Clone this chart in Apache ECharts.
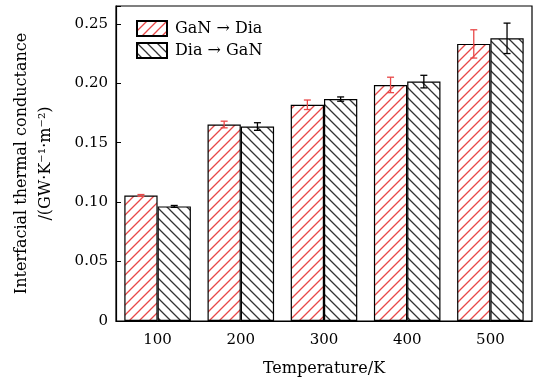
<!DOCTYPE html>
<html>
<head>
<meta charset="utf-8">
<script src="https://cdn.jsdelivr.net/npm/echarts@6/dist/echarts.min.js"></script>
<style>
  html, body { margin: 0; padding: 0; background: #fff; }
  #chart { width: 534px; height: 382px; }
</style>
</head>
<body>
<div id="chart"></div>
<script>
// temperatures and measured conductance (GW/(K*m^2))
const temps = ['100', '200', '300', '400', '500'];
const ganToDia = [0.1056, 0.1653, 0.1819, 0.1986, 0.2331];
const diaToGan = [0.0964, 0.1636, 0.1867, 0.2014, 0.2378];
const errGanToDia = [0.0008, 0.0028, 0.0040, 0.0065, 0.0119];
const errDiaToGan = [0.0008, 0.0032, 0.0018, 0.0053, 0.0128];

const FONT = 'DejaVu Serif';
const RED = '#e84848';

// diagonal hatch fill, dir 1 = '/', -1 = '\'
function hatch(color, dir) {
    const s = 10;
    const c = document.createElement('canvas');
    c.width = s; c.height = s;
    const ctx = c.getContext('2d');
    ctx.fillStyle = '#fff';
    ctx.fillRect(0, 0, s, s);
    ctx.strokeStyle = color;
    ctx.lineWidth = 1.3;
    ctx.beginPath();
    if (dir > 0) {
        ctx.moveTo(-1, s + 1); ctx.lineTo(s + 1, -1);
        ctx.moveTo(-1, 1); ctx.lineTo(1, -1);
        ctx.moveTo(s - 1, s + 1); ctx.lineTo(s + 1, s - 1);
    } else {
        ctx.moveTo(-1, -1); ctx.lineTo(s + 1, s + 1);
        ctx.moveTo(-1, s - 1); ctx.lineTo(1, s + 1);
        ctx.moveTo(s - 1, -1); ctx.lineTo(s + 1, 1);
    }
    ctx.stroke();
    return { image: c, repeat: 'repeat' };
}

function errData(vals, errs) {
    return vals.map((v, i) => [i, v - errs[i], v + errs[i]]);
}

// draws one error bar, shifted onto its bar of the pair
function errRenderer(side, color) {
    return function (params, api) {
        const band = api.size([1, 0])[0];
        const dx = side * band * 0.2;
        const lo = api.coord([api.value(0), api.value(1)]);
        const hi = api.coord([api.value(0), api.value(2)]);
        const x = lo[0] + dx;
        const cap = 3.5;
        const style = { stroke: color, lineWidth: 1.3 };
        return {
            type: 'group',
            children: [
                { type: 'line', shape: { x1: x, y1: lo[1], x2: x, y2: hi[1] }, style },
                { type: 'line', shape: { x1: x - cap, y1: lo[1], x2: x + cap, y2: lo[1] }, style },
                { type: 'line', shape: { x1: x - cap, y1: hi[1], x2: x + cap, y2: hi[1] }, style }
            ]
        };
    };
}

const chart = echarts.init(document.getElementById('chart'));

chart.setOption({
    backgroundColor: '#fff',
    animation: false,
    grid: {
        left: 116, right: 2, top: 6, bottom: 58,
        show: true, borderColor: '#000', borderWidth: 1.2
    },
    legend: {
        data: ['GaN → Dia', 'Dia → GaN'],
        orient: 'vertical',
        left: 131, top: 15,
        icon: 'rect',
        itemWidth: 30, itemHeight: 15, itemGap: 5,
        textStyle: { fontFamily: FONT, fontSize: 16, color: '#000', padding: [0, 0, 0, 3] }
    },
    xAxis: {
        type: 'category',
        data: temps,
        name: 'Temperature/K',
        nameLocation: 'middle',
        nameGap: 40,
        nameTextStyle: { fontFamily: FONT, fontSize: 16, color: '#000' },
        axisLine: { lineStyle: { color: '#000', width: 1.2 } },
        axisTick: { show: false },
        axisLabel: { fontFamily: FONT, fontSize: 15, color: '#000', margin: 12 }
    },
    yAxis: {
        type: 'value',
        min: 0, max: 0.265, interval: 0.05,
        name: 'Interfacial thermal conductance\n/(GW·K⁻¹·m⁻²)',
        nameLocation: 'middle',
        nameGap: 58,
        nameTextStyle: { fontFamily: FONT, fontSize: 16, color: '#000', lineHeight: 24 },
        splitLine: { show: false },
        axisLine: { show: true, lineStyle: { color: '#000', width: 1.2 } },
        axisTick: { show: true, inside: true, length: 5, lineStyle: { color: '#000' } },
        axisLabel: {
            fontFamily: FONT, fontSize: 15, color: '#000', margin: 8,
            formatter: v => {
                if (Math.abs(v / 0.05 - Math.round(v / 0.05)) > 1e-6) return '';
                return v === 0 ? '0' : v.toFixed(2);
            }
        }
    },
    series: [
        {
            name: 'GaN → Dia',
            type: 'bar',
            data: ganToDia,
            barWidth: '40%',
            barGap: '0%',
            itemStyle: { color: hatch(RED, 1), borderColor: '#000', borderWidth: 1.2 }
        },
        {
            name: 'Dia → GaN',
            type: 'bar',
            data: diaToGan,
            barWidth: '40%',
            barGap: '0%',
            itemStyle: { color: hatch('#333', -1), borderColor: '#000', borderWidth: 1.2 }
        },
        {
            name: 'err1',
            type: 'custom',
            data: errData(ganToDia, errGanToDia),
            encode: { x: 0, y: [1, 2] },
            renderItem: errRenderer(-1, RED),
            z: 10
        },
        {
            name: 'err2',
            type: 'custom',
            data: errData(diaToGan, errDiaToGan),
            encode: { x: 0, y: [1, 2] },
            renderItem: errRenderer(1, '#000'),
            z: 10
        }
    ]
});
</script>
</body>
</html>
